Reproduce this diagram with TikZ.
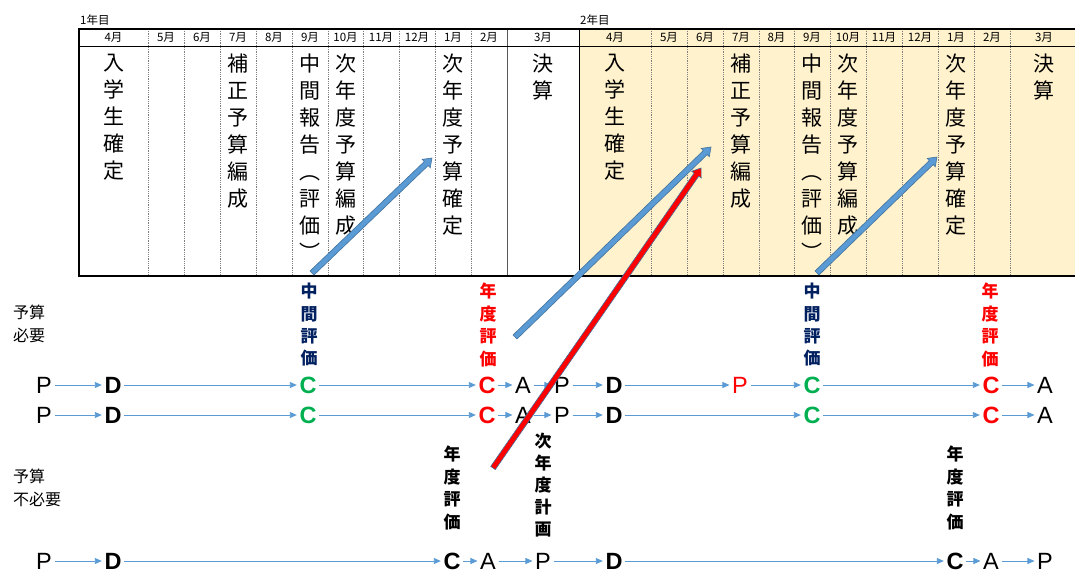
\documentclass[tikz,border=0pt]{standalone}
\usepackage{fontspec}
\setmainfont{Noto Sans CJK JP}
\newfontfamily\arial{Liberation Sans}
\usetikzlibrary{arrows.meta,calc}
\definecolor{abl}{HTML}{5B9BD5}
\definecolor{abd}{HTML}{41719C}
\definecolor{yel}{HTML}{FFF2CC}
\definecolor{dkb}{HTML}{002060}
\definecolor{grn}{HTML}{00B050}
\definecolor{rd}{HTML}{FF0000}
\newcommand\blockarr[4]{%
  \coordinate (#1-hb) at ($(#2)!8pt!(#1)$);
  \draw[draw=#4, fill=#3, line width=0.6pt, line join=miter]
    ($(#1)!2.8pt!90:(#2)$) -- ($(#1-hb)!2.8pt!90:(#2)$) -- ($(#1-hb)!5.8pt!90:(#2)$)
    -- (#2) -- ($(#1-hb)!5.8pt!-90:(#2)$) -- ($(#1-hb)!2.8pt!-90:(#2)$)
    -- ($(#1)!2.8pt!-90:(#2)$) -- cycle;}
\begin{document}
\begin{tikzpicture}[x=1pt,y=-1pt,
  sep/.style={draw=gray, densely dotted, line width=0.8pt},
  mon/.style={font=\fontsize{11.5pt}{13pt}\selectfont, inner sep=0pt},
  vt/.style={font=\fontsize{21pt}{27pt}\selectfont, align=center, inner sep=0pt, anchor=north},
  ev/.style={font=\bfseries\fontsize{17pt}{22.4pt}\selectfont, align=center, inner sep=0pt, anchor=north},
  lab/.style={font=\fontsize{16pt}{23pt}\selectfont, align=left, inner sep=0pt, anchor=north west},
  ltr/.style={font=\arial\fontsize{23.5pt}{24pt}\selectfont, inner xsep=2.5pt, inner ysep=0pt, text height=16.8pt, text depth=0pt},
  bl/.style={ltr, font=\arial\bfseries\fontsize{23.5pt}{24pt}\selectfont},
  flow/.style={-{Triangle[length=7pt,width=6pt]}, draw=abl, line width=0.9pt}]
\useasboundingbox (0,0) rectangle (1075,574);
% table
\fill[yel] (579,29) rectangle (1075,276);
\foreach \x in {148,184,220,256,292,328,363,399,435,471,651,687,723,759,794,830,866,902,938,974,1010}
  \draw[sep] (\x,29) -- (\x,276);
\draw[gray!70!black, line width=0.8pt] (507,29) -- (507,276);
\draw[black, line width=0.9pt] (579,29) -- (579,276);
\draw[black, line width=1.2pt] (1075,29) -| (79,276) -- (1075,276);
\draw[black, line width=0.9pt] (79,46) -- (1075,46);
\node[mon, anchor=west] (y1) at (80,20) {1年目};
\node[mon, anchor=west] (y2) at (580,20) {2年目};
\foreach \x/\m [count=\i] in {113.5/4月,166/5月,202/6月,238/7月,274/8月,310/9月,345.5/10月,381/11月,417/12月,453/1月,489/2月,543/3月,615/4月,669/5月,705/6月,741/7月,776.5/8月,812/9月,848/10月,884/11月,920/12月,956/1月,992/2月,1044/3月}
  \node[mon] (m\i) at (\x,37.5) {\m};
% vertical texts in table
\node[vt] (t1) at (113.5,53.5) {入\\学\\生\\確\\定};
\node[vt] (t2) at (237.5,53.5) {補\\正\\予\\算\\編\\成};
\node[vt] (t3) at (310,53.5) {中\\間\\報\\告\\︵\\評\\価\\︶};
\node[vt] (t4) at (345.5,53.5) {次\\年\\度\\予\\算\\編\\成};
\node[vt] (t5) at (452.5,53.5) {次\\年\\度\\予\\算\\確\\定};
\node[vt] (t6) at (543,53.5) {決\\算};
\node[vt] (t7) at (615,53.5) {入\\学\\生\\確\\定};
\node[vt] (t8) at (741,53.5) {補\\正\\予\\算\\編\\成};
\node[vt] (t9) at (812,53.5) {中\\間\\報\\告\\︵\\評\\価\\︶};
\node[vt] (t10) at (848,53.5) {次\\年\\度\\予\\算\\編\\成};
\node[vt] (t11) at (956,53.5) {次\\年\\度\\予\\算\\確\\定};
\node[vt] (t12) at (1044,53.5) {決\\算};
% side labels
\node[lab] (n1) at (13,305) {予算\\必要};
\node[lab] (n2) at (13,469) {予算\\不必要};
% evaluation labels
\node[ev, text=dkb] (e1) at (309,283) {中\\間\\評\\価};
\node[ev, text=rd] (e2) at (488,283) {年\\度\\評\\価};
\node[ev, text=dkb] (e3) at (812,283) {中\\間\\評\\価};
\node[ev, text=rd] (e4) at (990,283) {年\\度\\評\\価};
\node[ev] (e5) at (452,446) {年\\度\\評\\価};
\node[ev] (e6) at (955,446) {年\\度\\評\\価};
\node[ev, font=\bfseries\fontsize{17pt}{22pt}\selectfont] (e7) at (543,433) {次\\年\\度\\計\\画};
% row 1
\node[ltr] (r1a) at (44,385) {P};
\node[bl] (r1b) at (113,385) {D};
\node[bl, text=grn] (r1c) at (308,385) {C};
\node[bl, text=rd] (r1d) at (487,385) {C};
\node[ltr] (r1e) at (523,385) {A};
\node[ltr] (r1f) at (562,385) {P};
\node[bl] (r1g) at (614,385) {D};
\node[ltr, text=rd] (r1h) at (740,385) {P};
\node[bl, text=grn] (r1i) at (812,385) {C};
\node[bl, text=rd] (r1j) at (991,385) {C};
\node[ltr] (r1k) at (1045,385) {A};
\foreach \u/\v in {a/b,b/c,c/d,d/e,e/f,f/g,g/h,h/i,i/j,j/k}
  \draw[flow] (r1\u) -- (r1\v);
% row 2
\node[ltr] (r2a) at (44,415) {P};
\node[bl] (r2b) at (113,415) {D};
\node[bl, text=grn] (r2c) at (308,415) {C};
\node[bl, text=rd] (r2d) at (487,415) {C};
\node[ltr] (r2e) at (523,415) {A};
\node[ltr] (r2f) at (562,415) {P};
\node[bl] (r2g) at (614,415) {D};
\node[bl, text=grn] (r2i) at (812,415) {C};
\node[bl, text=rd] (r2j) at (991,415) {C};
\node[ltr] (r2k) at (1045,415) {A};
\foreach \u/\v in {a/b,b/c,c/d,d/e,e/f,f/g,g/i,i/j,j/k}
  \draw[flow] (r2\u) -- (r2\v);
% row 3
\node[ltr] (r3a) at (44,561) {P};
\node[bl] (r3b) at (113,561) {D};
\node[bl] (r3c) at (452,561) {C};
\node[ltr] (r3d) at (488,561) {A};
\node[ltr] (r3e) at (543,561) {P};
\node[bl] (r3f) at (614,561) {D};
\node[bl] (r3g) at (955,561) {C};
\node[ltr] (r3h) at (991,561) {A};
\node[ltr] (r3i) at (1045,561) {P};
\foreach \u/\v in {a/b,b/c,c/d,d/e,e/f,f/g,g/h,h/i}
  \draw[flow] (r3\u) -- (r3\v);
% block arrows
\coordinate (a1s) at (312,273); \coordinate (a1e) at (432,158);
\coordinate (a2s) at (515,337); \coordinate (a2e) at (711,147);
\coordinate (a3s) at (493,468); \coordinate (a3e) at (701,168);
\coordinate (a4s) at (817,273); \coordinate (a4e) at (937,157);
\blockarr{a1s}{a1e}{abl}{abd}
\blockarr{a2s}{a2e}{abl}{abd}
\blockarr{a3s}{a3e}{rd}{abd}
\blockarr{a4s}{a4e}{abl}{abd}
\end{tikzpicture}
\end{document}
